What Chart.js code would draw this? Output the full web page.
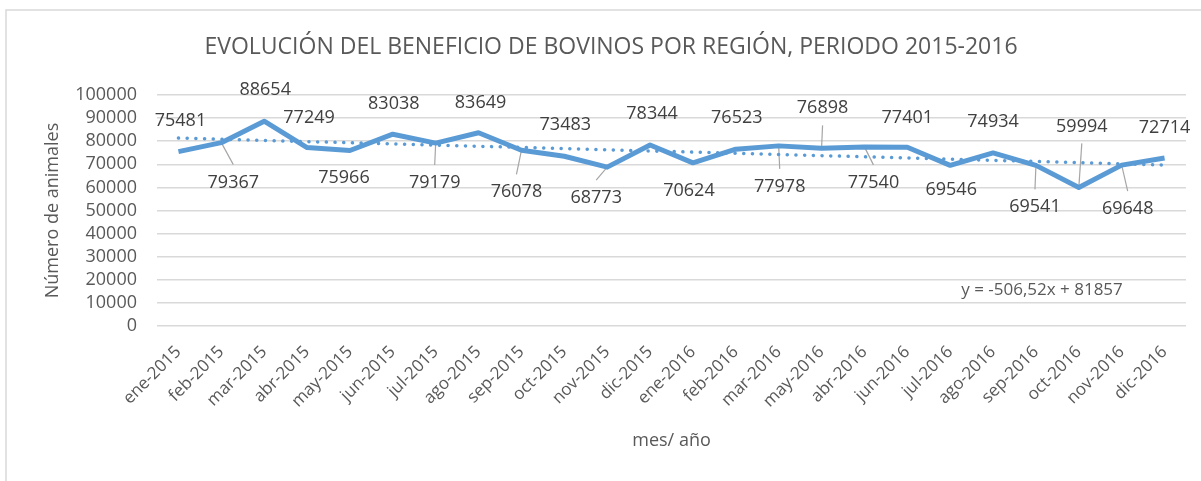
<!DOCTYPE html>
<html>
<head>
<meta charset="utf-8">
<script src="https://cdn.jsdelivr.net/npm/chart.js@4"></script>
<style>
  html, body { margin: 0; padding: 0; background: #ffffff; }
  #wrap { width: 1201px; height: 481px; position: relative; }
</style>
</head>
<body>
<div id="wrap"><canvas id="chart"></canvas></div>
<script>
// --- datos del gráfico ---
const meses = ['ene-2015', 'feb-2015', 'mar-2015', 'abr-2015', 'may-2015', 'jun-2015',
  'jul-2015', 'ago-2015', 'sep-2015', 'oct-2015', 'nov-2015', 'dic-2015',
  'ene-2016', 'feb-2016', 'mar-2016', 'may-2016', 'abr-2016', 'jun-2016',
  'jul-2016', 'ago-2016', 'sep-2016', 'oct-2016', 'nov-2016', 'dic-2016'];
const animales = [75481, 79367, 88654, 77249, 75966, 83038, 79179, 83649, 76078, 73483, 68773, 78344,
  70624, 76523, 77978, 76898, 77540, 77401, 69546, 74934, 69541, 59994, 69648, 72714];
const yTicks = [0, 10000, 20000, 30000, 40000, 50000, 60000, 70000, 80000, 90000, 100000];

const titulo = 'EVOLUCIÓN DEL BENEFICIO DE BOVINOS POR REGIÓN, PERIODO 2015-2016';
const tituloY = 'Número de animales';
const tituloX = 'mes/ año';
const ecuacion = 'y = -506,52x + 81857';

// desplazamiento de cada etiqueta respecto a su punto (px) y si lleva línea guía
const etiquetaDx = [2, 12, 1, 2, -6, 1, -1, 2, -5, 1, -11, 2, -4, 1, 1, 1, 9, 0, 1, 0, -1, 3, 6, 0];
const etiquetaDy = [-31, 40, -31, -30, 27, -30, 40, -30, 42, -31, 31, -31, 28, -31, 41, -40, 36, -29, 25, -31, 42, -61, 44, -30];
const conGuia = [0, 1, 0, 0, 0, 0, 1, 0, 1, 0, 1, 0, 0, 0, 1, 1, 1, 0, 0, 0, 1, 1, 1, 0];

// línea de tendencia lineal (mínimos cuadrados, x = 1..n)
const n = animales.length;
let sx = 0, sy = 0, sxy = 0, sxx = 0;
animales.forEach((v, i) => { const x = i + 1; sx += x; sy += v; sxy += x * v; sxx += x * x; });
const pendiente = (n * sxy - sx * sy) / (n * sxx - sx * sx);
const intercepto = (sy - pendiente * sx) / n;
const tendencia = animales.map((v, i) => intercepto + pendiente * (i + 1));

const FUENTE = '"Open Sans", "DejaVu Sans", sans-serif';
const GRIS_TEXTO = '#595959';
const AZUL = '#5b9bd5';

// plugin: marco, títulos, etiquetas de datos y ecuación
const decoracion = {
  id: 'decoracion',
  beforeDraw(chart) {
    const ctx = chart.ctx;
    ctx.save();
    ctx.strokeStyle = '#d9d9d9';
    ctx.lineWidth = 1.5;
    ctx.beginPath();
    ctx.moveTo(6, 481);
    ctx.lineTo(6, 10);
    ctx.lineTo(1201, 10);
    ctx.stroke();
    ctx.restore();
  },
  beforeDatasetsDraw(chart) {
    // líneas guía, bajo la serie
    const ctx = chart.ctx;
    const pts = chart.getDatasetMeta(0).data;
    ctx.save();
    ctx.strokeStyle = '#a6a6a6';
    ctx.lineWidth = 1.2;
    pts.forEach((p, i) => {
      if (!conGuia[i]) return;
      const lx = p.x + etiquetaDx[i];
      const ly = p.y + etiquetaDy[i];
      const fin = etiquetaDy[i] > 0 ? ly - 18 : ly + 17;
      ctx.beginPath();
      ctx.moveTo(p.x, p.y);
      ctx.lineTo(lx, fin);
      ctx.stroke();
    });
    ctx.restore();
  },
  afterDraw(chart) {
    const ctx = chart.ctx;
    const area = chart.chartArea;
    const pts = chart.getDatasetMeta(0).data;
    ctx.save();
    ctx.fillStyle = '#404040';
    ctx.font = '18px ' + FUENTE;
    ctx.textAlign = 'center';
    ctx.textBaseline = 'middle';
    pts.forEach((p, i) => {
      ctx.fillText(String(animales[i]), p.x + etiquetaDx[i], p.y + etiquetaDy[i]);
    });

    // ecuación de la tendencia
    ctx.fillStyle = GRIS_TEXTO;
    ctx.font = '17px ' + FUENTE;
    ctx.fillText(ecuacion, 1042, 290);

    // título
    ctx.font = '23px ' + FUENTE;
    ctx.fillText(titulo, 611, 47);

    // título eje x
    ctx.font = '18px ' + FUENTE;
    ctx.fillText(tituloX, (area.left + area.right) / 2, 441);

    // título eje y
    ctx.translate(53, (area.top + area.bottom) / 2);
    ctx.rotate(-Math.PI / 2);
    ctx.fillText(tituloY, 0, 0);
    ctx.restore();
  }
};

const ctx = document.getElementById('chart').getContext('2d');
new Chart(ctx, {
  type: 'line',
  data: {
    labels: meses,
    datasets: [{
      data: animales,
      borderColor: AZUL,
      borderWidth: 5,
      borderJoinStyle: 'round',
      pointRadius: 0,
      tension: 0,
      order: 1
    }, {
      data: tendencia,
      borderColor: AZUL,
      borderWidth: 3.5,
      borderDash: [0.1, 8.6],
      borderCapStyle: 'round',
      pointRadius: 0,
      tension: 0,
      order: 2
    }]
  },
  options: {
    responsive: true,
    maintainAspectRatio: false,
    animation: false,
    layout: { padding: { top: 95, right: 15, left: 0, bottom: 0 } },
    plugins: {
      legend: { display: false },
      title: { display: false },
      tooltip: { enabled: false }
    },
    scales: {
      x: {
        offset: true,
        grid: { display: false, drawTicks: false },
        border: { display: false },
        ticks: {
          autoSkip: false,
          minRotation: 45,
          maxRotation: 45,
          padding: 16,
          color: GRIS_TEXTO,
          font: { family: FUENTE, size: 17 }
        },
        afterFit(scale) { scale.height = 155; }
      },
      y: {
        min: 0,
        max: 100000,
        afterBuildTicks(scale) { scale.ticks = yTicks.map(v => ({ value: v })); },
        grid: { color: '#d9d9d9', lineWidth: 1.5, drawTicks: false },
        border: { display: false },
        ticks: {
          autoSkip: false,
          padding: 20,
          color: GRIS_TEXTO,
          font: { family: FUENTE, size: 18 },
          callback: (v) => String(v)
        },
        afterFit(scale) { scale.width = 157; }
      }
    }
  },
  plugins: [decoracion]
});
</script>
</body>
</html>
